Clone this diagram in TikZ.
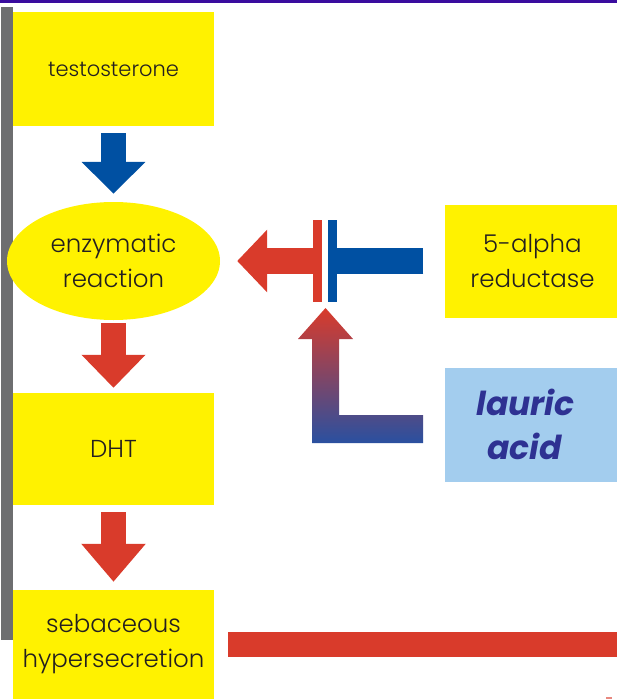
\documentclass[tikz,border=0pt]{standalone}
\usepackage{fontspec}
\setmainfont{Poppins}[UprightFont=* Light, BoldItalicFont=* Bold Italic]
\usepackage{xcolor}
\usepackage{tikz}
\usetikzlibrary{shapes,arrows,positioning,calc,arrows.meta}

\definecolor{boxyellow}{HTML}{FFF200}
\definecolor{arrowred}{HTML}{D93B2B}
\definecolor{arrowblue}{HTML}{0050A2}
\definecolor{gradblue}{HTML}{2A50A0}
\definecolor{barpurple}{HTML}{3A0C9E}
\definecolor{bargray}{HTML}{6D6E70}
\definecolor{lightblue}{HTML}{A3CDEE}
\definecolor{lauricblue}{HTML}{2E3192}
\definecolor{textgray}{HTML}{231F20}

\tikzset{
  bluearrow/.style={draw=arrowblue, line width=25pt, -{Triangle[length=32pt,width=62pt]}},
  redarrow/.style={draw=arrowred, line width=25pt, -{Triangle[length=33pt,width=62pt]}},
  flatbar/.style={line width=26pt}
}

\begin{document}
\begin{tikzpicture}[x=1pt, y=-1pt, node distance=192pt, every node/.style={rectangle, fill=boxyellow, align=center, inner sep=0pt, text=textgray, font=\fontsize{24.5}{35}\selectfont}]
    \useasboundingbox (0,0) rectangle (617,699);
    % frame bits
    \fill [barpurple] (0,0) rectangle (617,2.5);
    \fill [bargray] (1,7) rectangle (13,640);

    \node [minimum width=201pt, minimum height=114pt, font=\fontsize{21}{33}\selectfont] (testo) at (113.5,69) {testosterone};
    \node [below of=testo, ellipse, minimum width=213pt, minimum height=118pt] (enz) {enzymatic\\reaction};
    \node [below of=enz, node distance=188pt, minimum width=201pt, minimum height=112pt] (dht) {DHT};
    \node [below of=dht, node distance=195.5pt, minimum width=201pt, minimum height=109pt] (seb) {sebaceous\\hypersecretion};
    \node [right of=enz, node distance=419pt, minimum width=176pt, minimum height=113pt] (alpha) {5-alpha\\reductase};
    \node [below of=alpha, node distance=163.5pt, minimum width=176pt, minimum height=114pt, fill=lightblue, text=lauricblue, font=\fontsize{33}{44}\selectfont\bfseries\itshape] (lauric) {lauric\hspace*{14pt}\\acid\hspace*{16pt}};

    \draw [bluearrow, shorten <=7pt, shorten >=8pt] (testo) -- (enz);
    \draw [redarrow, shorten <=3pt, shorten >=5pt] (enz) -- (dht);
    \draw [redarrow, -{Triangle[length=38pt,width=62pt]}, shorten <=7pt, shorten >=8pt] (dht) -- (seb);

    % inhibition
    \coordinate (gap) at (325,261);
    \draw [flatbar, draw=arrowblue, shorten <=21pt, shorten >=12pt] (alpha) -- (gap);
    \draw [redarrow, line width=26pt, -{Triangle[length=30pt,width=61pt]}, shorten <=12pt, shorten >=17pt] (gap) -- (enz);
    \fill [arrowred] ($(gap)+(-12,-41)$) rectangle ($(gap)+(-3,41)$);
    \fill [arrowblue] ($(gap)+(3,-41)$) rectangle ($(gap)+(12,41)$);
    \shade [top color=arrowred, bottom color=gradblue] (312,443) -- (312,339) -- (298,339) -- (325.5,308) -- (353,339) -- (339,339) -- (339,415) -- (423,415) -- (423,443) -- cycle;

    % bottom bar
    \fill [arrowred] (228,632) rectangle (620,657);
    \fill [arrowred!60] (606,697) rectangle (612,699);
\end{tikzpicture}
\end{document}
